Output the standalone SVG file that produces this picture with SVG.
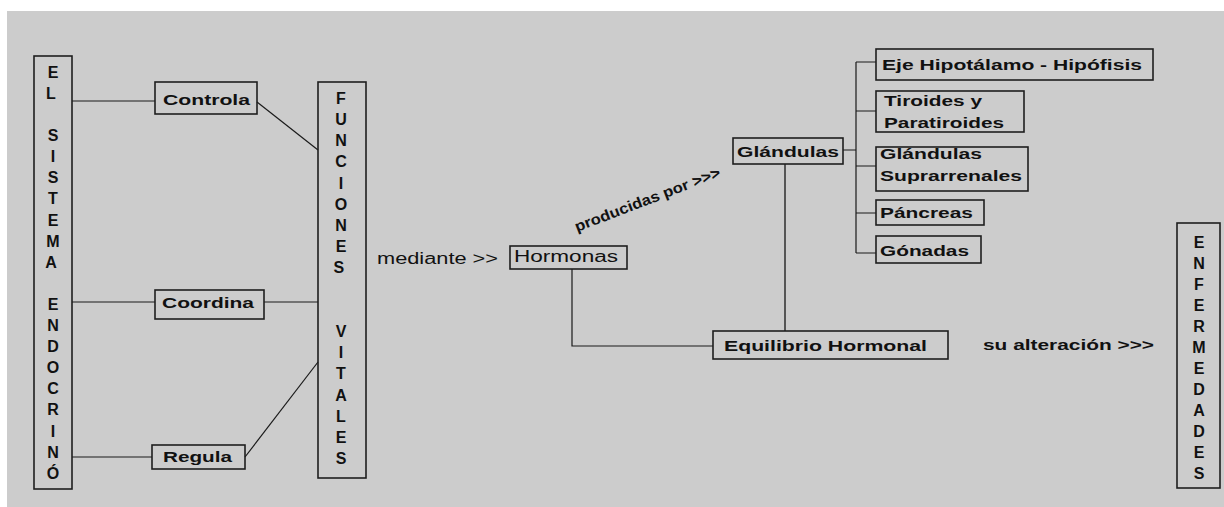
<svg xmlns="http://www.w3.org/2000/svg" width="1224" height="507" viewBox="0 0 1224 507">
<style>
.box{fill:none;stroke:#1e1e1e;stroke-width:1.6}
.ln{fill:none;stroke:#1a1a1a;stroke-width:1.2}
.t{font-family:"Liberation Sans",Arial,sans-serif;font-weight:bold;font-size:15px;fill:#111}
.n{font-family:"Liberation Sans",Arial,sans-serif;font-size:16px;fill:#111}
.v{font-family:"Liberation Sans",Arial,sans-serif;font-weight:bold;font-size:16px;fill:#111;text-anchor:middle}
</style>
<rect x="0" y="0" width="1224" height="507" fill="#ffffff"/>
<rect x="7" y="11" width="1217" height="496" fill="#cccccc"/>

<g id="connectors">
<path class="ln" d="M72 101H155"/>
<path class="ln" d="M257 102L318 150"/>
<path class="ln" d="M72 302H155"/>
<path class="ln" d="M264 302H318"/>
<path class="ln" d="M72 457H152"/>
<path class="ln" d="M245 457L318 362"/>
<path class="ln" d="M572 269V346H713"/>
<path d="M785 164V331" fill="none" stroke="#555" stroke-width="2"/>
<path class="ln" d="M843 150H856M856 62V253M856 62H876M856 111H876M856 166H876M856 213H876M856 253H876" stroke-width="1.5"/>
</g>

<g id="sistema">
<rect class="box" x="34" y="56" width="38" height="433"/>
<text class="v">
<tspan x="53" y="77.8">E</tspan><tspan x="53" y="98.9">L</tspan>
<tspan x="53" y="141.1">S</tspan><tspan x="53" y="162.2">I</tspan><tspan x="53" y="183.3">S</tspan><tspan x="53" y="204.4">T</tspan><tspan x="53" y="225.5">E</tspan><tspan x="53" y="246.6">M</tspan><tspan x="53" y="267.7">A</tspan>
<tspan x="53" y="309.9">E</tspan><tspan x="53" y="331">N</tspan><tspan x="53" y="352.1">D</tspan><tspan x="53" y="373.2">O</tspan><tspan x="53" y="394.3">C</tspan><tspan x="53" y="415.4">R</tspan><tspan x="53" y="436.5">I</tspan><tspan x="53" y="457.6">N</tspan><tspan x="53" y="478.7">Ó</tspan>
</text>
</g>

<g id="controla">
<rect class="box" x="155" y="82" width="102" height="32"/>
<text class="t" x="163" y="105" font-size="16" textLength="87" lengthAdjust="spacingAndGlyphs">Controla</text>
</g>

<g id="coordina">
<rect class="box" x="155" y="290" width="109" height="29"/>
<text class="t" x="162" y="308" font-size="16" textLength="92" lengthAdjust="spacingAndGlyphs">Coordina</text>
</g>

<g id="regula">
<rect class="box" x="152" y="445" width="93" height="24"/>
<text class="t" x="163" y="462" font-size="16" textLength="69" lengthAdjust="spacingAndGlyphs">Regula</text>
</g>

<g id="funciones">
<rect class="box" x="318" y="82" width="48" height="396"/>
<text class="v">
<tspan x="341" y="103.8">F</tspan><tspan x="341" y="125">U</tspan><tspan x="341" y="146.2">N</tspan><tspan x="341" y="167.4">C</tspan><tspan x="341" y="188.6">I</tspan><tspan x="341" y="209.8">O</tspan><tspan x="341" y="231">N</tspan><tspan x="341" y="252.2">E</tspan><tspan x="341" y="273.4">S</tspan>
<tspan x="341" y="337">V</tspan><tspan x="341" y="358.2">I</tspan><tspan x="341" y="379.4">T</tspan><tspan x="341" y="400.6">A</tspan><tspan x="341" y="421.8">L</tspan><tspan x="341" y="443">E</tspan><tspan x="341" y="464.2">S</tspan>
</text>
</g>

<text class="n" x="377" y="264" textLength="121" lengthAdjust="spacingAndGlyphs">mediante &gt;&gt;</text>

<g id="hormonas">
<rect class="box" x="510" y="246" width="117" height="23"/>
<text class="n" x="514" y="262" font-size="17" textLength="104" lengthAdjust="spacingAndGlyphs">Hormonas</text>
</g>

<text class="t" font-size="12" x="0" y="0" transform="translate(577 232) rotate(-21)" textLength="155" lengthAdjust="spacingAndGlyphs">producidas por &gt;&gt;&gt;</text>

<g id="glandulas">
<rect class="box" x="733" y="138" width="110" height="26"/>
<text class="t" x="737" y="157" textLength="102" lengthAdjust="spacingAndGlyphs">Glándulas</text>
</g>

<g id="eje">
<rect class="box" x="876" y="49" width="277" height="31"/>
<text class="t" x="882" y="70" font-size="16" textLength="260" lengthAdjust="spacingAndGlyphs">Eje Hipotálamo - Hipófisis</text>
</g>

<g id="tiroides">
<rect class="box" x="876" y="91" width="148" height="41"/>
<text class="t" x="884" y="106" textLength="98" lengthAdjust="spacingAndGlyphs">Tiroides y</text>
<text class="t" x="884" y="128" textLength="120" lengthAdjust="spacingAndGlyphs">Paratiroides</text>
</g>

<g id="suprarrenales">
<rect class="box" x="876" y="147" width="152" height="44"/>
<text class="t" x="880" y="159" textLength="102" lengthAdjust="spacingAndGlyphs">Glándulas</text>
<text class="t" x="880" y="181" textLength="142" lengthAdjust="spacingAndGlyphs">Suprarrenales</text>
</g>

<g id="pancreas">
<rect class="box" x="876" y="200" width="108" height="25"/>
<text class="t" x="880" y="218" textLength="93" lengthAdjust="spacingAndGlyphs">Páncreas</text>
</g>

<g id="gonadas">
<rect class="box" x="876" y="236" width="105" height="27"/>
<text class="t" x="880" y="256" textLength="89" lengthAdjust="spacingAndGlyphs">Gónadas</text>
</g>

<g id="equilibrio">
<rect class="box" x="713" y="331" width="235" height="28"/>
<text class="t" x="724" y="351" font-size="16" textLength="203" lengthAdjust="spacingAndGlyphs">Equilibrio Hormonal</text>
</g>

<text class="t" x="983" y="350" textLength="171" lengthAdjust="spacingAndGlyphs">su alteración &gt;&gt;&gt;</text>

<g id="enfermedades">
<rect class="box" x="1177" y="223" width="43" height="265"/>
<text class="v">
<tspan x="1199" y="247.8">E</tspan><tspan x="1199" y="268.8">N</tspan><tspan x="1199" y="289.8">F</tspan><tspan x="1199" y="310.8">E</tspan><tspan x="1199" y="331.8">R</tspan><tspan x="1199" y="352.8">M</tspan><tspan x="1199" y="373.8">E</tspan><tspan x="1199" y="394.8">D</tspan><tspan x="1199" y="415.8">A</tspan><tspan x="1199" y="436.8">D</tspan><tspan x="1199" y="457.8">E</tspan><tspan x="1199" y="478.8">S</tspan>
</text>
</g>
</svg>
